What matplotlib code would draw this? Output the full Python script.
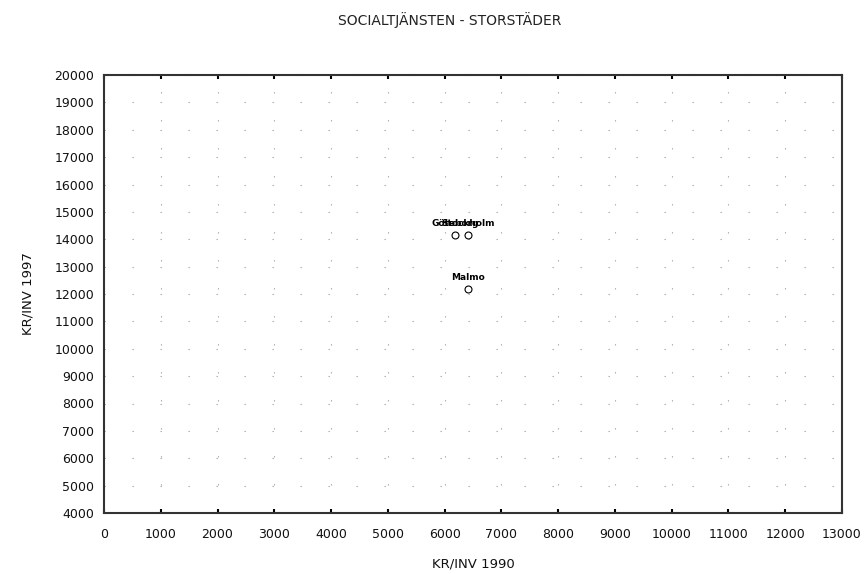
import matplotlib
matplotlib.use("Agg")
import matplotlib.pyplot as plt

cities = ["Göteborg", "Stockholm", "Malmo"]
kr_1990 = [6180, 6410, 6410]
kr_1997 = [14150, 14150, 12180]

x_ticks = list(range(0, 13001, 1000))
y_ticks = list(range(4000, 20001, 1000))

plt.rcParams['font.family'] = ['DejaVu Sans']

fig = plt.figure(figsize=(8.67, 5.74), dpi=100)
ax = fig.add_axes([104/867, 61/574, 738/867, 438/574])

ax.set_xlim(0, 13000)
ax.set_ylim(4000, 20000)
ax.set_xticks(x_ticks)
ax.set_yticks(y_ticks)
ax.tick_params(axis='both', labelsize=9, length=0, pad=7, labelcolor='#111111')
ax.tick_params(axis='x', top=True, direction='in', length=3, width=1.5, pad=11)

ax.grid(True, color='#a8a8a8', linewidth=0.8, linestyle=(0, (1.2, 24)))
ax.set_axisbelow(True)

for s in ax.spines.values():
    s.set_linewidth(1.5)
    s.set_color('#333333')

ax.plot(kr_1990, kr_1997, linestyle='none', marker='o', markersize=5,
        markerfacecolor='none', markeredgecolor='black', markeredgewidth=0.8)

for name, xv, yv in zip(cities, kr_1990, kr_1997):
    ax.annotate(name, (xv, yv), xytext=(0, 5), textcoords='offset points',
                ha='center', va='bottom', fontsize=6.5, fontweight='bold', color='black')

fig.suptitle("SOCIALTJÄNSTEN - STORSTÄDER", x=450/867, y=1 - 20/574, va='center',
             fontsize=10, color='#222222')
ax.set_xlabel("KR/INV 1990", fontsize=9.5, labelpad=12, color='#111111')
ax.set_ylabel("KR/INV 1997", fontsize=9.5, labelpad=14, color='#111111')

fig.savefig("out.png", dpi=100, facecolor='white')
